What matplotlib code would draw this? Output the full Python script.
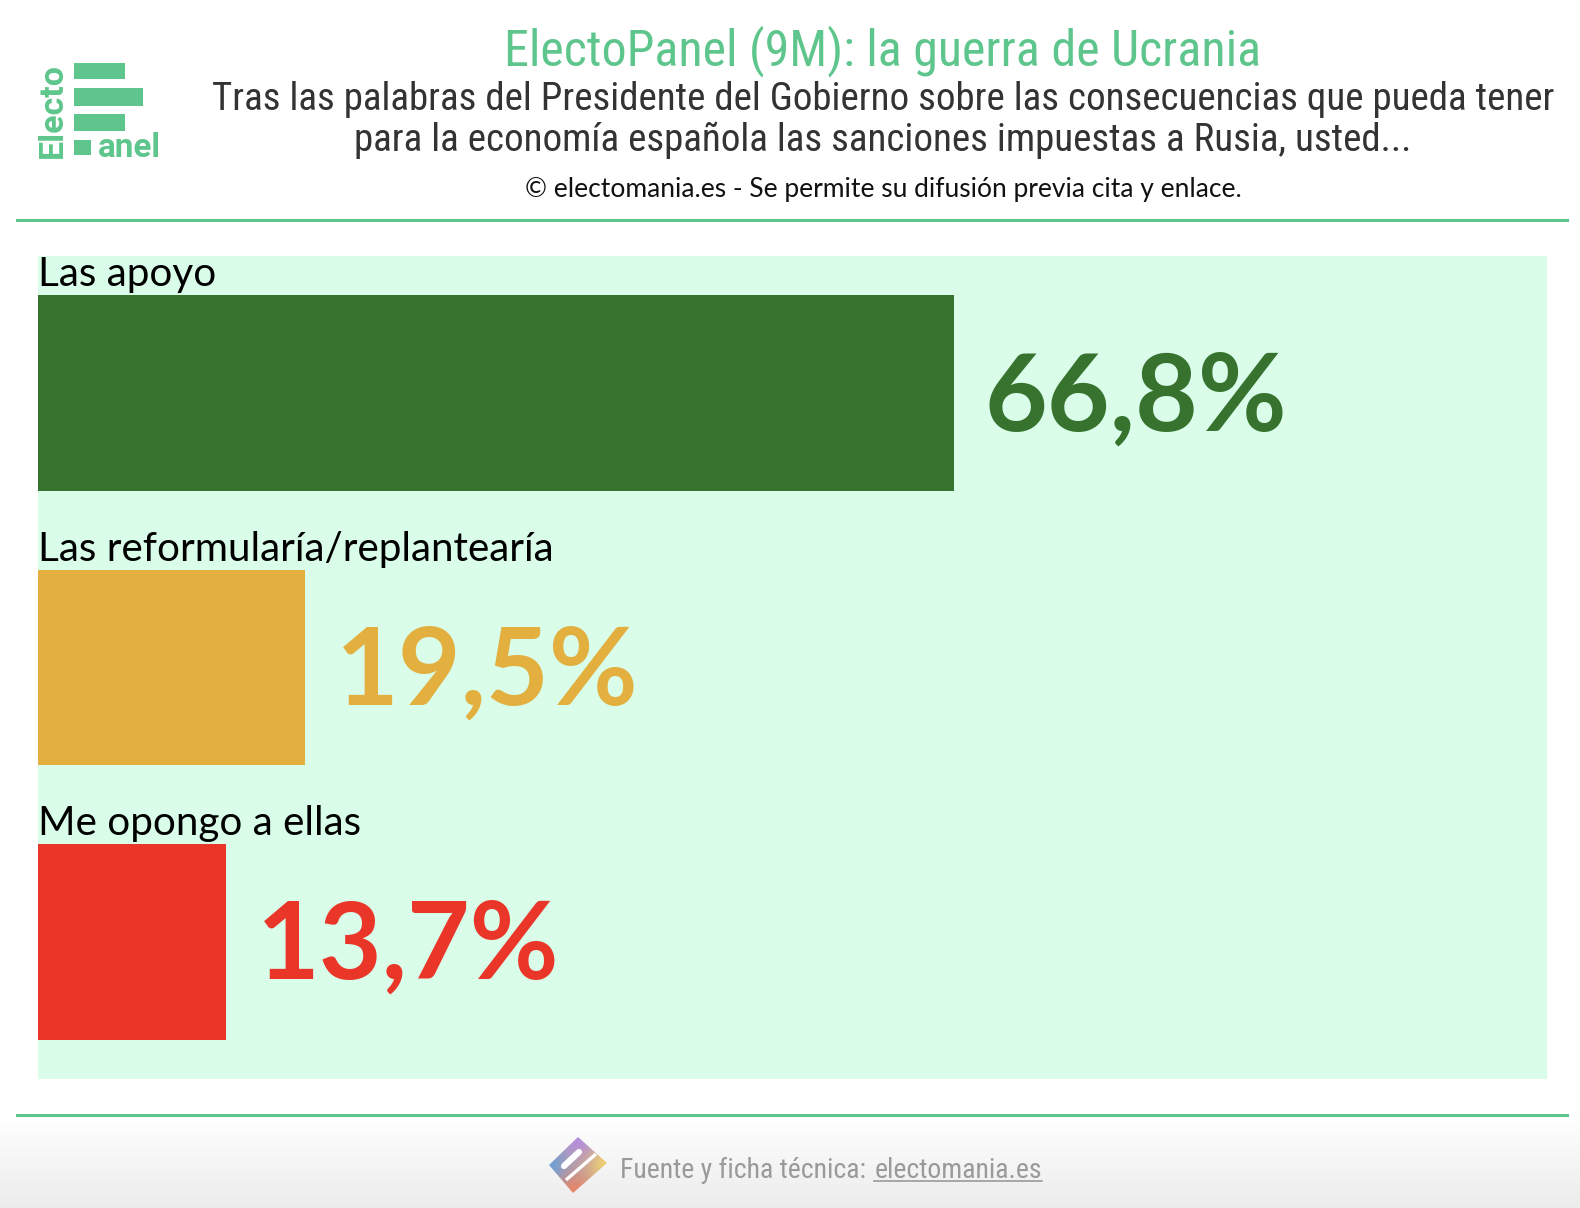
#!/usr/bin/env python3
"""ElectoPanel (9M): horizontal bar chart of opinions on the sanctions against Russia."""

import matplotlib

matplotlib.use("Agg")

import matplotlib.pyplot as plt
import numpy as np
from matplotlib import font_manager, patches, transforms
from matplotlib.font_manager import FontProperties
from matplotlib.lines import Line2D

W, H = 1580, 1208

CATEGORIES = ["Las apoyo", "Las reformularía/replantearía", "Me opongo a ellas"]
VALUES = [66.8, 19.5, 13.7]
VALUE_LABELS = ["66,8%", "19,5%", "13,7%"]
BAR_COLORS = ["#37722f", "#e3af3e", "#ea3628"]

TITLE = "ElectoPanel (9M): la guerra de Ucrania"
SUBTITLE = [
    "Tras las palabras del Presidente del Gobierno sobre las consecuencias que pueda tener",
    "para la economía española las sanciones impuestas a Rusia, usted...",
]
CREDIT = "© electomania.es - Se permite su difusión previa cita y enlace."
FOOTER = "Fuente y ficha técnica:"
FOOTER_LINK = "electomania.es"

GREEN = "#5ec68c"
PANEL = "#d9fde9"

FONTS = font_manager.fontManager.ttflist
INSTALLED = {f.name for f in FONTS}


def pick(*names):
    for n in names:
        if n in INSTALLED:
            return n
    return "DejaVu Sans"


def static_face(names, weight, fallback):
    # variable fonts render at their default (thin) instance, so use static files only
    found = [f for f in FONTS if f.name in names and f.style == "normal"
             and not any(k in f.fname for k in ("VF", "Variable", "["))]
    found = [f for f in found if f.weight == weight]
    if found:
        return FontProperties(fname=found[0].fname)
    return FontProperties(family=fallback, weight=weight)


HEAD_FONT = pick("Roboto Condensed", "Roboto")
SOURCE = ("Source Sans 3", "Source Sans Pro")
BODY = static_face(SOURCE, 400, "Lato")
BODY_BOLD = static_face(SOURCE, 700, "Lato")


def fx(x):
    return x / W


def fy(y):
    return 1 - y / H


def fit_width(txt, width_px, renderer):
    bb = txt.get_window_extent(renderer)
    txt.set_fontsize(txt.get_fontsize() * width_px / bb.width)


fig = plt.figure(figsize=(W / 100, H / 100), dpi=100)
fig.patch.set_facecolor("white")
renderer = fig.canvas.get_renderer()

# footer gradient
bg = fig.add_axes([0, 0, 1, (H - 1116) / H])
grad = np.linspace(1.0, 0.925, 100).reshape(-1, 1)
bg.imshow(np.dstack([grad] * 3), aspect="auto", extent=(0, 1, 0, 1))
bg.set_axis_off()

# header / footer rules
for y in (220, 1115):
    fig.add_artist(Line2D([fx(17), fx(1567)], [fy(y), fy(y)], transform=fig.transFigure,
                          color=GREEN, linewidth=2.2))

# logo
for x0, x1, y0, y1 in [(74, 125, 63, 79), (74, 143, 88, 106), (74, 125, 114, 131), (74, 91, 140, 155)]:
    fig.add_artist(patches.Rectangle((fx(x0), fy(y1)), fx(x1) - fx(x0), fy(y0) - fy(y1),
                                     transform=fig.transFigure, color=GREEN, linewidth=0))
t = fig.text(fx(53), fy(110), "Electo", rotation=90, ha="center", va="center",
             family="Roboto", fontweight="bold", color=GREEN, fontsize=20)
bb = t.get_window_extent(renderer)
t.set_fontsize(20 * 95 / bb.height)
t = fig.text(fx(98), fy(157), "anel", ha="left", va="baseline",
             family="Roboto", fontweight="bold", color=GREEN, fontsize=20)
fit_width(t, 63, renderer)

# titles
t = fig.text(fx(883), fy(65), TITLE, ha="center", va="baseline", family=HEAD_FONT,
             color=GREEN, fontsize=30)
fit_width(t, 758, renderer)
sub = [fig.text(fx(883), fy(y), s, ha="center", va="baseline", family=HEAD_FONT,
                color="#333333", fontsize=26) for s, y in zip(SUBTITLE, (110, 151))]
fit_width(sub[0], 1345, renderer)
sub[1].set_fontsize(sub[0].get_fontsize())
t = fig.text(fx(883), fy(197), CREDIT, ha="center", va="baseline", fontproperties=BODY,
             color="#111111", fontsize=16)
fit_width(t, 717, renderer)

# chart panel
ax = fig.add_axes([fx(38), fy(1079), fx(1547) - fx(38), fy(256) - fy(1079)])
ax.set_facecolor(PANEL)
ypos = np.arange(len(CATEGORIES))
ax.barh(ypos, VALUES, height=0.714, color=BAR_COLORS)
ax.set_xlim(0, (1547 - 38) / 13.71)
ax.set_ylim(len(CATEGORIES) - 0.5, -0.5)
ax.set_axis_off()
ax.add_patch(patches.Rectangle((0, 0), 1, 1, transform=ax.transAxes, color=PANEL, zorder=-1))

lab_tr = transforms.offset_copy(ax.transData, fig=fig, x=0, y=107, units="dots")
val_tr = transforms.offset_copy(ax.transData, fig=fig, x=31, y=-37, units="dots")
labels, values = [], []
for i, (cat, v, vl, c) in enumerate(zip(CATEGORIES, VALUES, VALUE_LABELS, BAR_COLORS)):
    labels.append(ax.text(0, i, cat, transform=lab_tr, ha="left", va="baseline",
                          fontproperties=BODY, fontsize=26, color="black"))
    values.append(ax.text(v, i, vl, transform=val_tr, ha="left", va="baseline",
                          fontproperties=BODY_BOLD, fontsize=70, color=c))
fit_width(labels[1], 514, renderer)
for lb in labels:
    lb.set_fontsize(labels[1].get_fontsize())
fit_width(values[0], 303, renderer)
for vt in values:
    vt.set_fontsize(values[0].get_fontsize())

# footer icon
icon = fig.add_axes([0, 0, 1, 1], facecolor="none")
icon.set_xlim(0, W)
icon.set_ylim(H, 0)
icon.set_axis_off()
verts = np.array([(578, 1137), (607, 1163), (573, 1193), (549, 1165)])
cols = np.array([(180, 140, 225), (240, 210, 110), (235, 130, 100), (110, 160, 215)]) / 255
gx, gy = np.meshgrid(np.arange(545, 611), np.arange(1133, 1197))
wts = np.stack([1 / ((gx - vx) ** 2 + (gy - vy) ** 2 + 40.0) for vx, vy in verts], -1)
wts /= wts.sum(-1, keepdims=True)
img = wts @ cols
poly = patches.Polygon(verts, closed=True, transform=icon.transData, facecolor="none",
                       edgecolor="none")
icon.add_patch(poly)
im = icon.imshow(img, extent=(545, 611, 1197, 1133), interpolation="bilinear")
im.set_clip_path(poly)
icon.plot([566, 596], [1180, 1154], color="white", linewidth=2.4, solid_capstyle="butt")
icon.plot([564, 579], [1166, 1152], color="white", linewidth=4.5, solid_capstyle="round")
icon.set_xlim(0, W)
icon.set_ylim(H, 0)

# footer text
f1 = fig.text(fx(620), fy(1178), FOOTER, ha="left", va="baseline", family=HEAD_FONT,
              color="#9a9a9a", fontsize=20)
f2 = fig.text(fx(620), fy(1178), FOOTER_LINK, ha="left", va="baseline", family=HEAD_FONT,
              color="#9a9a9a", fontsize=20)
fig.canvas.draw()
w1 = f1.get_window_extent(renderer).width
w2 = f2.get_window_extent(renderer).width
gap = 0.3 * 20 * 100 / 72
scale = 421 / (w1 + w2 + gap)
for ft in (f1, f2):
    ft.set_fontsize(20 * scale)
fig.canvas.draw()
w1 = f1.get_window_extent(renderer).width
x2 = 620 + w1 + gap * scale
f2.set_x(fx(x2))
fig.canvas.draw()
w2 = f2.get_window_extent(renderer).width
fig.add_artist(Line2D([fx(x2), fx(x2 + w2)], [fy(1181), fy(1181)], transform=fig.transFigure,
                      color="#9a9a9a", linewidth=1.2))

fig.savefig("out.png", dpi=100)
plt.close(fig)
